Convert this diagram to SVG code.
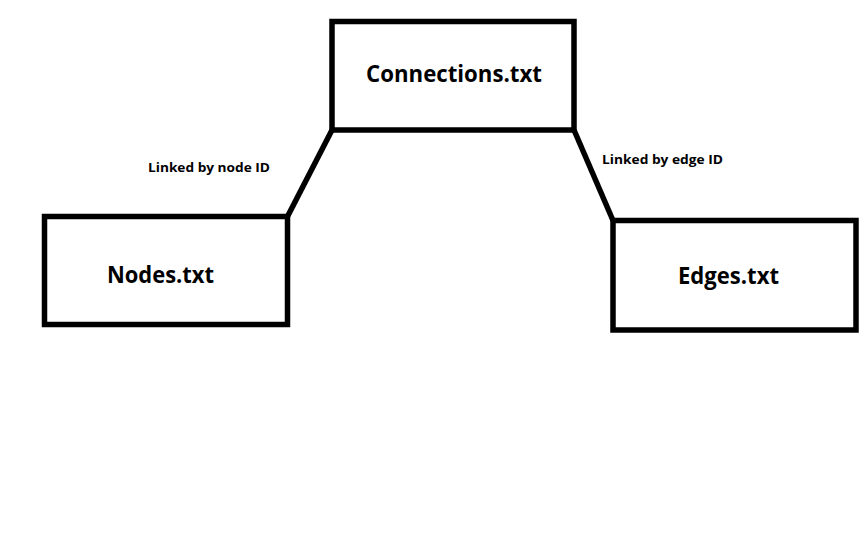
<svg xmlns="http://www.w3.org/2000/svg" width="864" height="540" viewBox="0 0 864 540">
<style>
.box{fill:#fff;stroke:#000;stroke-width:5.5}
.conn{stroke:#000;stroke-width:5.5;fill:none}
.big{font-family:"Open Sans","Liberation Sans",sans-serif;font-weight:bold;font-size:23.5px;fill:#000;text-anchor:start}
.small{font-family:"Open Sans","Liberation Sans",sans-serif;font-weight:bold;font-size:13px;fill:#000}
</style>
<rect width="864" height="540" fill="#fff"/>
<g id="connectors">
<line class="conn" x1="332" y1="130" x2="287.5" y2="216.5"/>
<line class="conn" x1="574" y1="130" x2="613" y2="220.5"/>
<text class="small" x="148" y="172" textLength="122" lengthAdjust="spacingAndGlyphs">Linked by node ID</text>
<text class="small" x="602" y="164" textLength="121" lengthAdjust="spacingAndGlyphs">Linked by edge ID</text>
</g>
<g id="connections">
<rect class="box" x="332" y="21.5" width="242" height="108.5"/>
<text class="big" x="366" y="82" textLength="176" lengthAdjust="spacingAndGlyphs">Connections.txt</text>
</g>
<g id="nodes">
<rect class="box" x="44.5" y="216.5" width="243" height="108"/>
<text class="big" x="107" y="283" textLength="107" lengthAdjust="spacingAndGlyphs">Nodes.txt</text>
</g>
<g id="edges">
<rect class="box" x="613" y="220.5" width="243" height="109.5"/>
<text class="big" x="678" y="284" textLength="101" lengthAdjust="spacingAndGlyphs">Edges.txt</text>
</g>
</svg>
